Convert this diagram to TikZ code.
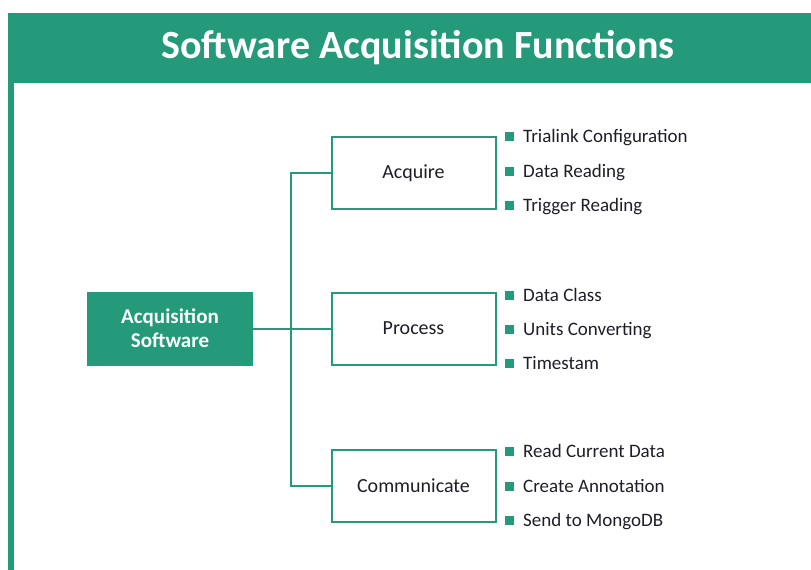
\documentclass[tikz,border=0pt]{standalone}
\usepackage{fontspec}
\setmainfont{Carlito}
\definecolor{tgreen}{RGB}{36,154,122}
\definecolor{tdark}{RGB}{30,30,40}
\begin{document}
\begin{tikzpicture}[x=1pt,y=-1pt,
  fbox/.style={draw=tgreen,line width=2pt,minimum width=164pt,minimum height=72pt,inner sep=0pt,font=\fontsize{20}{24}\selectfont,text=tdark},
  conn/.style={draw=tgreen,line width=2pt},
  item/.style={anchor=west,inner sep=0pt,text height=12.2pt,text depth=0pt,font=\fontsize{19}{22}\selectfont,text=tdark},
  bul/.style={fill=tgreen,minimum width=9pt,minimum height=9pt,inner sep=0pt}]
\useasboundingbox (0,0) rectangle (811,570);
\fill[tgreen] (8,13) rectangle (811,83);
\fill[tgreen] (8,83) rectangle (14,570);
\node[text=white,font=\fontsize{40}{44}\selectfont\bfseries] (title) at (418,48) {Software Acquisition Functions};
\node[fill=tgreen,minimum width=166pt,minimum height=74pt,inner sep=0pt,align=center,text=white,font=\fontsize{21}{24}\selectfont\bfseries] (main) at (170,328.5) {Acquisition\\Software};
\node[fbox] (acq) at (413.5,173) {Acquire};
\node[fbox] (proc) at (413.5,328.5) {Process};
\node[fbox] (comm) at (413.5,486) {Communicate};
\coordinate (jt) at (291,173);
\coordinate (jb) at (291,486);
\draw[conn] (main.east) -- (proc.west);
\draw[conn] (acq.west) -- (jt) -- (jb) -- (comm.west);
\foreach \n/\y/\t in {a1/136/Trialink Configuration,a2/171/Data Reading,a3/205/Trigger Reading,p1/295/Data Class,p2/329/Units Converting,p3/363/Timestam,c1/451/Read Current Data,c2/486/Create Annotation,c3/520/Send to MongoDB}{
  \node[bul] (b\n) at (509.5,\y) {};
  \node[item] (t\n) at (523,\y) {\t};
}
\end{tikzpicture}
\end{document}
